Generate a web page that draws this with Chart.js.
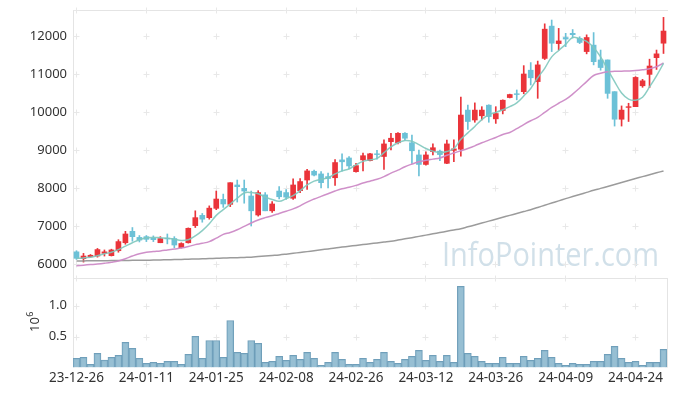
<!DOCTYPE html>
<html><head><meta charset="utf-8">
<script src="https://cdn.jsdelivr.net/npm/chart.js@4/dist/chart.umd.min.js"></script>
<style>html,body{margin:0;padding:0;background:#fff;}#wrap{width:677px;height:396px;position:relative;}</style>
</head><body><div id="wrap"><canvas id="c" width="677" height="396"></canvas></div>
<script>
const dates = ["23-12-26","23-12-27","23-12-28","24-01-02","24-01-03","24-01-04","24-01-05","24-01-08","24-01-09","24-01-10",
"24-01-11","24-01-12","24-01-15","24-01-16","24-01-17","24-01-18","24-01-19","24-01-22","24-01-23","24-01-24",
"24-01-25","24-01-26","24-01-29","24-01-30","24-01-31","24-02-01","24-02-02","24-02-05","24-02-06","24-02-07",
"24-02-08","24-02-13","24-02-14","24-02-15","24-02-16","24-02-19","24-02-20","24-02-21","24-02-22","24-02-23",
"24-02-26","24-02-27","24-02-28","24-02-29","24-03-04","24-03-05","24-03-06","24-03-07","24-03-08","24-03-11",
"24-03-12","24-03-13","24-03-14","24-03-15","24-03-18","24-03-19","24-03-20","24-03-21","24-03-22","24-03-25",
"24-03-26","24-03-27","24-03-28","24-03-29","24-04-01","24-04-02","24-04-03","24-04-04","24-04-05","24-04-08",
"24-04-09","24-04-11","24-04-12","24-04-15","24-04-16","24-04-17","24-04-18","24-04-19","24-04-22","24-04-23",
"24-04-24","24-04-25","24-04-26","24-04-29","24-04-30"];

const opens = [6320,6140,6190,6210,6280,6220,6350,6560,6860,6700,
6720,6680,6560,6680,6670,6430,6560,7010,7280,7220,
7465,7700,7570,8080,7990,7790,7290,7820,7400,7920,
7880,7730,7930,8210,8440,8370,8300,8270,8740,8790,
8430,8740,8720,8900,8830,9220,9190,9440,9190,8870,
8620,8960,8970,8650,8990,9020,10050,9790,9900,10180,
9820,10040,10380,10480,10535,11100,10800,11410,12260,11800,
11960,12070,11940,11590,11760,11370,11370,10535,9810,10120,
10140,10690,10990,11430,11810];
const highs = [6350,6280,6250,6410,6370,6390,6640,6860,6960,6750,
6750,6740,6720,6790,6720,6560,6950,7400,7330,7530,
7920,7840,8140,8210,8210,7920,7930,7880,7640,8040,
7960,8240,8250,8490,8470,8430,8390,8750,8900,8830,
8650,8920,8910,8990,9270,9440,9460,9460,9390,9000,
8950,9160,9000,9260,9270,10390,10180,10240,10140,10190,
10140,10320,10470,10580,11220,11300,11340,12320,12420,12200,
12070,12170,11980,12030,12090,11630,11370,10535,10160,10230,
10930,10860,11390,11630,12490];
const lows = [6120,6050,6180,6180,6210,6210,6310,6520,6600,6580,
6590,6590,6560,6530,6430,6420,6550,6960,7100,7180,
7430,7490,7510,7630,7600,7000,7260,7400,7360,7710,
7700,7700,7880,7960,8320,8000,8000,8070,8440,8510,
8420,8450,8710,8760,8490,9000,9160,9250,8650,8320,
8600,8870,8720,8640,8690,8840,9540,9730,9790,9730,
9700,9950,10370,10320,10480,10710,10360,11380,11590,11630,
11720,11950,11800,11530,11240,11100,10360,9630,9630,9750,
10140,10650,10640,11120,11540];
const closes = [6150,6210,6230,6380,6320,6370,6590,6790,6720,6630,
6650,6640,6670,6660,6500,6540,6940,7220,7180,7470,
7710,7580,8140,8035,7920,7400,7880,7400,7580,7770,
7760,8080,8170,8450,8340,8140,8250,8670,8690,8580,
8590,8850,8900,8880,9160,9310,9440,9310,8980,8620,
8870,9060,8880,9160,9030,9920,9750,10050,10050,9880,
9960,10310,10460,10460,11000,10900,11240,12180,11810,11870,
11920,12035,11830,11960,11325,11170,10490,9810,10050,10140,
10910,10820,11210,11530,12130];

const ma5 = [6150,6160,6180,6220,6270,6310,6380,6470,6560,6640,
6690,6700,6690,6680,6650,6620,6640,6740,6880,7060,
7280,7430,7580,7730,7870,7880,7850,7760,7700,7650,
7720,7800,7930,8080,8180,8230,8270,8370,8450,8500,
8610,8700,8740,8780,8930,9080,9190,9250,9230,9140,
9040,8970,8930,8960,9040,9280,9450,9620,9800,9930,
9990,10060,10140,10240,10420,10620,10900,11150,11450,11620,
11780,11960,11930,11860,11700,11450,11120,10800,10500,10340,
10310,10390,10660,10950,11280];
const ma20 = [5955,5970,5985,6000,6020,6045,6080,6140,6210,6270,
6310,6330,6345,6370,6395,6420,6460,6510,6545,6590,
6680,6780,6830,6900,6990,7080,7160,7220,7270,7330,
7390,7450,7530,7630,7710,7780,7850,7920,7980,8020,
8070,8130,8180,8230,8300,8390,8470,8560,8630,8690,
8730,8760,8790,8860,8920,8980,9040,9110,9190,9260,
9330,9410,9460,9560,9670,9770,9860,9990,10120,10230,
10330,10470,10630,10800,10960,11020,11060,11070,11075,11080,
11090,11110,11140,11190,11290];
const ma120 = [6080,6082,6084,6086,6088,6090,6092,6094,6096,6098,
6100,6104,6108,6112,6116,6120,6126,6132,6138,6144,
6150,6156,6162,6168,6174,6180,6195,6210,6225,6240,
6260,6282,6304,6326,6350,6375,6398,6420,6445,6468,
6490,6512,6534,6556,6578,6600,6630,6662,6694,6727,
6760,6794,6828,6862,6896,6930,6978,7028,7078,7128,
7180,7230,7280,7330,7380,7430,7488,7546,7604,7662,
7720,7775,7830,7885,7940,7990,8042,8094,8146,8198,
8250,8300,8350,8400,8450];

const volumes = [148000,164000,51000,228000,121000,164000,196000,406000,309000,148000,
67000,83000,67000,99000,99000,51000,212000,503000,148000,438000,
438000,164000,761000,245000,228000,438000,390000,83000,99000,180000,
116000,196000,132000,245000,148000,35000,83000,245000,132000,51000,
51000,148000,83000,132000,245000,99000,67000,132000,180000,277000,
116000,196000,99000,196000,83000,1315000,228000,180000,99000,67000,
67000,164000,67000,67000,180000,116000,148000,277000,164000,67000,
35000,67000,51000,51000,99000,99000,212000,341000,148000,83000,
99000,35000,83000,83000,293000];

const priceTicks = [6000,7000,8000,9000,10000,11000,12000];
const volumeTicks = [500000,1000000];

const RED = 'rgb(234,52,58)', BLUE = 'rgb(108,193,215)';
const candleColors = opens.map((o,i)=> closes[i] >= o ? RED : BLUE);
const FONT = "'Noto Sans', sans-serif";
const GRIDC = '#e4e4e4';

const decor = {
  id: 'decor',
  beforeDatasetsDraw(chart) {
    const ctx = chart.ctx, x = chart.scales.x, y = chart.scales.y, yv = chart.scales.yv;
    const L = Math.round(x.left), R = Math.round(x.right);
    ctx.save();
    // watermark
    ctx.fillStyle = 'rgba(178,204,218,0.6)';
    ctx.font = "32px 'Open Sans', sans-serif";
    ctx.textBaseline = 'alphabetic';
    ctx.fillText('InfoPointer.com', 442, 266, 217);
    ctx.strokeStyle = GRIDC; ctx.lineWidth = 1;
    // borders
    ctx.beginPath();
    const top = Math.round(y.top) + 0.5, sep = Math.round(yv.top) + 0.5, bot = yv.bottom;
    ctx.moveTo(L + 0.5, top - 0.5); ctx.lineTo(L + 0.5, bot);
    ctx.moveTo(L, top); ctx.lineTo(R + 1, top);
    ctx.moveTo(L, sep); ctx.lineTo(R + 1, sep);
    ctx.moveTo(R + 0.5, sep); ctx.lineTo(R + 0.5, bot);
    ctx.stroke();
    // grid crosses
    const xs = [];
    for (let i = 0; i < dates.length; i += 10) xs.push(Math.floor(x.getPixelForValue(i)) + 0.5);
    const ys = priceTicks.map(v => Math.round(y.getPixelForValue(v)) + 0.5)
      .concat(volumeTicks.map(v => Math.round(yv.getPixelForValue(v)) + 0.5));
    ys.push(top, sep);
    ctx.strokeStyle = '#e8e8e8';
    ctx.beginPath();
    for (const px of xs) for (const py of ys) {
      ctx.moveTo(px - 3, py); ctx.lineTo(px + 3, py);
      ctx.moveTo(px, py - 3); ctx.lineTo(px, py + 3);
    }
    ctx.stroke();
    ctx.restore();
  },
  afterDraw(chart) {
    const ctx = chart.ctx;
    ctx.save();
    ctx.fillStyle = '#333';
    ctx.translate(38.5, 332);
    ctx.rotate(-Math.PI / 2);
    ctx.textBaseline = 'alphabetic';
    ctx.textAlign = 'left';
    ctx.font = "13px " + FONT;
    ctx.fillText('10', 0, 0);
    const w = ctx.measureText('10').width;
    ctx.font = "9px " + FONT;
    ctx.fillText('6', w + 0.5, -5.5);
    ctx.restore();
  }
};

const fitY = s => { s.width = 73; s.paddingTop = 0; s.paddingBottom = 0; };

new Chart(document.getElementById('c'), {
  type: 'bar',
  data: {
    labels: dates,
    datasets: [
      { type: 'line', data: ma5, yAxisID: 'y', borderColor: 'rgba(128,200,190,0.9)', borderWidth: 1.5, pointRadius: 0, tension: 0.4, order: 0 },
      { type: 'line', data: ma20, yAxisID: 'y', borderColor: 'rgba(204,138,198,0.95)', borderWidth: 1.5, pointRadius: 0, tension: 0.4, order: 0 },
      { type: 'line', data: ma120, yAxisID: 'y', borderColor: 'rgba(150,150,150,0.95)', borderWidth: 1.5, pointRadius: 0, tension: 0.4, order: 0 },
      { data: opens.map((o,i)=>[o, closes[i]]), yAxisID: 'y', backgroundColor: candleColors, barThickness: 5, grouped: false, order: 1 },
      { data: lows.map((l,i)=>[l, highs[i]]), yAxisID: 'y', backgroundColor: candleColors, barThickness: 1, grouped: false, order: 2 },
      { data: volumes, yAxisID: 'yv', backgroundColor: 'rgba(140,184,206,0.9)', borderColor: 'rgba(104,154,182,0.95)', borderWidth: 1, categoryPercentage: 1, barPercentage: 1, grouped: false, order: 3 }
    ]
  },
  options: {
    responsive: false, animation: false, devicePixelRatio: 1, events: [],
    layout: { padding: { top: 10, right: 10, left: 0, bottom: 0 } },
    plugins: { legend: { display: false }, tooltip: { enabled: false } },
    scales: {
      x: {
        offset: true,
        grid: { display: false, drawTicks: false },
        border: { display: false },
        afterFit: s => { s.height = 28.5; },
        ticks: { autoSkip: false, maxRotation: 0, minRotation: 0, padding: 3, color: '#333',
          font: { family: FONT, size: 13.5 },
          callback: (v, i) => (i % 10 === 0 ? dates[i] : '') }
      },
      yv: {
        position: 'left', stack: 'main', stackWeight: 89.5,
        min: 0, max: 1450000,
        grid: { display: false, drawTicks: false },
        border: { display: false },
        afterFit: fitY,
        afterBuildTicks: s => { s.ticks = volumeTicks.map(v => ({ value: v })); },
        ticks: { padding: 6, color: '#333', font: { family: FONT, size: 13 },
          callback: v => (v / 1000000).toFixed(1) }
      },
      y: {
        position: 'left', stack: 'main', stackWeight: 268,
        min: 5632, max: 12684,
        grid: { display: false, drawTicks: false },
        border: { display: false },
        afterFit: fitY,
        afterBuildTicks: s => { s.ticks = priceTicks.map(v => ({ value: v })); },
        ticks: { padding: 6, color: '#333', font: { family: FONT, size: 13 }, callback: v => String(v) }
      }
    }
  },
  plugins: [decor]
});
</script></body></html>
